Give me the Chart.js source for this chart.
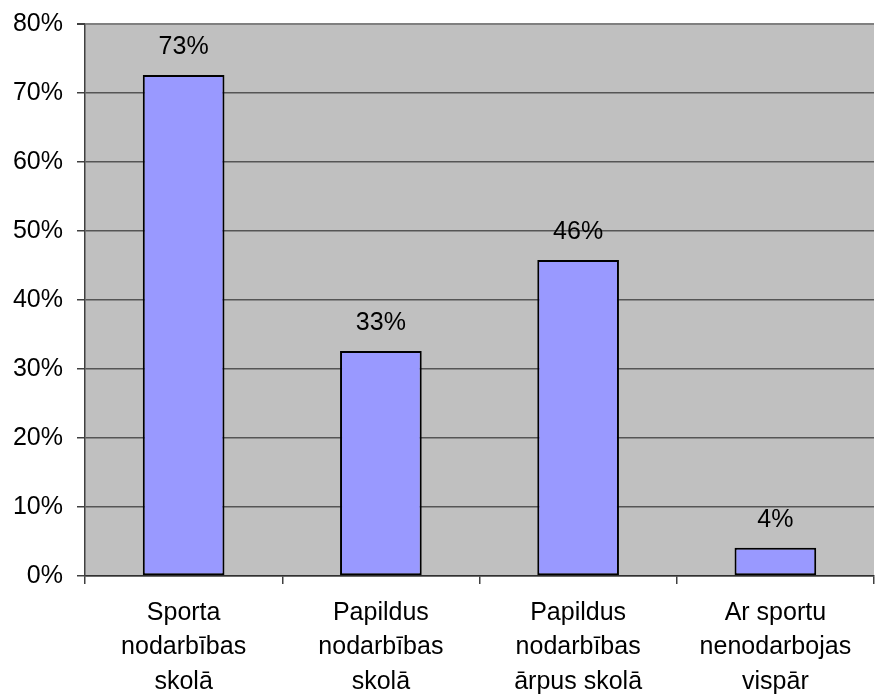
<!DOCTYPE html>
<html>
<head>
<meta charset="utf-8">
<script src="https://cdn.jsdelivr.net/npm/chart.js@4/dist/chart.umd.min.js"></script>
<style>
  html, body { margin: 0; padding: 0; background: #ffffff; }
  #wrap { width: 875px; height: 697px; }
</style>
</head>
<body>
<div id="wrap"><canvas id="c" width="875" height="697"></canvas></div>
<script>
// Category labels (multi-line) and the share of pupils in each group, in percent
const categories = [
  ['Sporta', 'nodarbības', 'skolā'],
  ['Papildus', 'nodarbības', 'skolā'],
  ['Papildus', 'nodarbības', 'ārpus skolā'],
  ['Ar sportu', 'nenodarbojas', 'vispār']
];
const shares = [72.6, 32.6, 45.8, 4.1];
const yTicks = [0, 10, 20, 30, 40, 50, 60, 70, 80];

const FONT = 'Liberation Sans, Arial, sans-serif';

// Grey plot background
const plotBackground = {
  id: 'plotBackground',
  beforeDraw(chart) {
    const { ctx, chartArea: a } = chart;
    ctx.save();
    ctx.fillStyle = '#C0C0C0';
    ctx.fillRect(a.left, a.top, a.right - a.left, a.bottom - a.top);
    ctx.restore();
  }
};

// Value labels above each bar, rounded to whole percent
const valueLabels = {
  id: 'valueLabels',
  afterDatasetsDraw(chart) {
    const { ctx } = chart;
    const meta = chart.getDatasetMeta(0);
    ctx.save();
    ctx.font = '25px ' + FONT;
    ctx.fillStyle = '#000';
    ctx.textAlign = 'center';
    ctx.textBaseline = 'bottom';
    meta.data.forEach((bar, i) => {
      const v = chart.data.datasets[0].data[i];
      ctx.fillText(Math.round(v) + '%', bar.x, bar.y - 15);
    });
    ctx.restore();
  }
};

new Chart(document.getElementById('c'), {
  type: 'bar',
  data: {
    labels: categories,
    datasets: [{
      data: shares,
      backgroundColor: '#9999FF',
      borderColor: '#000000',
      borderWidth: 2,
      borderSkipped: false,
      categoryPercentage: 0.82,
      barPercentage: 0.505
    }]
  },
  options: {
    responsive: false,
    animation: false,
    devicePixelRatio: 1,
    layout: { padding: { top: 24, right: 1, left: 0, bottom: 0 } },
    plugins: {
      legend: { display: false },
      tooltip: { enabled: false }
    },
    scales: {
      x: {
        offset: true,
        grid: {
          display: true,
          offset: true,
          drawOnChartArea: false,
          drawTicks: true,
          tickLength: 8,
          color: '#404040',
          lineWidth: 1.5
        },
        border: { display: true, color: '#303030', width: 1.5 },
        ticks: {
          color: '#000',
          font: { family: FONT, size: 25, lineHeight: 1.37 },
          padding: 12,
          maxRotation: 0,
          autoSkip: false
        },
        afterFit(scale) {
          scale.height = 121;
          scale.paddingLeft = 0;
          scale.paddingRight = 0;
        }
      },
      y: {
        min: 0,
        max: 80,
        afterBuildTicks(scale) {
          scale.ticks = yTicks.map(v => ({ value: v }));
        },
        grid: {
          color: (c) => (c.tick && c.tick.value === 80 ? '#808080' : '#555555'),
          lineWidth: (c) => (c.tick && c.tick.value === 80 ? 2 : 1.5),
          drawTicks: true,
          tickLength: 8,
          tickColor: '#404040'
        },
        border: { display: true, color: '#404040', width: 1.5 },
        ticks: {
          color: '#000',
          font: { family: FONT, size: 25 },
          padding: 14,
          callback: (v) => v + '%'
        },
        afterFit(scale) {
          scale.width = 85;
          scale.paddingTop = 0;
          scale.paddingBottom = 0;
        }
      }
    }
  },
  plugins: [plotBackground, valueLabels]
});
</script>
</body>
</html>
